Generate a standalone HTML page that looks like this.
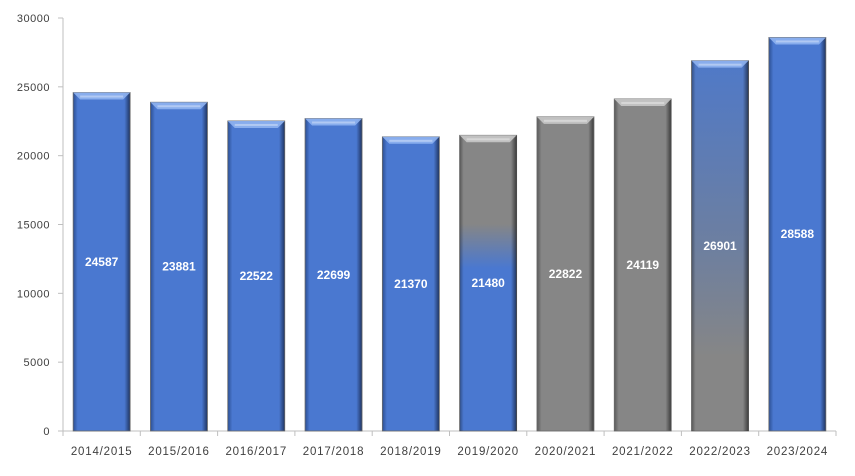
<!DOCTYPE html>
<html><head><meta charset="utf-8"><style>
body{margin:0;background:#fff}
svg text{font-family:"Liberation Sans",sans-serif}
</style></head><body>
<svg id="chart" width="855" height="471" xmlns="http://www.w3.org/2000/svg">
<defs>
<linearGradient id="blueH" x1="0" x2="1" y1="0" y2="0">
<stop offset="0" stop-color="#2c4f93"/><stop offset="0.08" stop-color="#4a78d0"/><stop offset="0.9" stop-color="#4a78d0"/><stop offset="1" stop-color="#1f3460"/></linearGradient>
<linearGradient id="grayH" x1="0" x2="1" y1="0" y2="0">
<stop offset="0" stop-color="#5a5a5a"/><stop offset="0.08" stop-color="#868686"/><stop offset="0.9" stop-color="#868686"/><stop offset="1" stop-color="#3a3a3a"/></linearGradient>
<linearGradient id="mixA" x1="0" x2="0" y1="0" y2="1">
<stop offset="0" stop-color="#868686"/><stop offset="0.3" stop-color="#868686"/><stop offset="0.45" stop-color="#4a78d0"/><stop offset="1" stop-color="#4a78d0"/></linearGradient>
<linearGradient id="mixB" x1="0" x2="0" y1="0" y2="1">
<stop offset="0" stop-color="#4f79c8"/><stop offset="0.5" stop-color="#6d7fa0"/><stop offset="0.8" stop-color="#868686"/><stop offset="1" stop-color="#868686"/></linearGradient>
<linearGradient id="shade" x1="0" x2="1" y1="0" y2="0">
<stop offset="0" stop-color="#000" stop-opacity="0.35"/><stop offset="0.07" stop-color="#000" stop-opacity="0"/><stop offset="0.9" stop-color="#000" stop-opacity="0"/><stop offset="1" stop-color="#000" stop-opacity="0.55"/></linearGradient>
</defs>
<g id="axes"></g><g id="bars"></g>
</svg>
<script>
const categories=["2014/2015","2015/2016","2016/2017","2017/2018","2018/2019","2019/2020","2020/2021","2021/2022","2022/2023","2023/2024"];
const values=[24587,23881,22522,22699,21370,21480,22822,24119,26901,28588];
const fills=["blue","blue","blue","blue","blue","mixA","gray","gray","mixB","blue"];
const yTicks=[0,5000,10000,15000,20000,25000,30000];
const NS="http://www.w3.org/2000/svg";
const X0=63,X1=836,Y0=431,Y1=18,YMAX=30000;
const bw=(X1-X0)/categories.length;
function y(v){return Y0-(v/YMAX)*(Y0-Y1);}
function xc(i){return X0+bw*(i+0.5);}
function mk(t,a,p){const e=document.createElementNS(NS,t);for(const k in a)e.setAttribute(k,a[k]);p.appendChild(e);return e;}
const axes=document.getElementById('axes'),bars=document.getElementById('bars');
const yl=mk('line',{x1:X0,x2:X0,y1:Y1,y2:Y0,stroke:'#bfbfbf'},axes);


const xl=mk('line',{x1:X0,x2:X1,y1:Y0,y2:Y0,stroke:'#bfbfbf'},axes);


yTicks.forEach(v=>{
 mk('line',{x1:X0-5,x2:X0,y1:y(v),y2:y(v),stroke:'#bfbfbf'},axes);
 const t=mk('text',{x:X0-13,y:y(v)+4,'text-anchor':'end','font-size':'11','fill':'#404040','letter-spacing':'0.5'},axes);
 t.textContent=v;
 
 
});
for(let i=0;i<=categories.length;i++){mk('line',{x1:X0+bw*i,x2:X0+bw*i,y1:Y0,y2:Y0+5,stroke:'#bfbfbf'},axes);}
categories.forEach((c,i)=>{
 const t=mk('text',{x:xc(i),y:455,'text-anchor':'middle','font-size':'11.5','fill':'#404040','letter-spacing':'0.8'},axes);
 t.textContent=c;
 
 
 const w=57,x=xc(i)-w/2,top=y(values[i]),h=Y0-top;
 const f=fills[i];
 const fillUrl=f==='blue'?'url(#blueH)':f==='gray'?'url(#grayH)':'url(#'+f+')';
 const g=mk('g',{},bars);
 
 
 mk('rect',{x:x,y:top,width:w,height:h,fill:fillUrl,stroke:'#6a6a6a','stroke-width':'0.8'},g);
 if(f!=='blue'&&f!=='gray')mk('rect',{x:x,y:top,width:w,height:h,fill:'url(#shade)'},g);
 const light=(f==='gray'||f==='mixA')?'#c8c8c8':'#8fb2f0';
 mk('polygon',{points:`${x},${top} ${x+w},${top} ${x+w-7},${top+7} ${x+7},${top+7}`,fill:light,opacity:'0.9'},g);
 mk('rect',{x:x+7,y:top+3,width:w-14,height:2,fill:'#fff',opacity:'0.35'},g);
 const lb=mk('text',{x:xc(i),y:(top+Y0)/2+4,'text-anchor':'middle','font-size':'12','font-weight':'bold','fill':'#fff'},g);
 lb.textContent=values[i];
 
 
});
</script>
</body></html>
